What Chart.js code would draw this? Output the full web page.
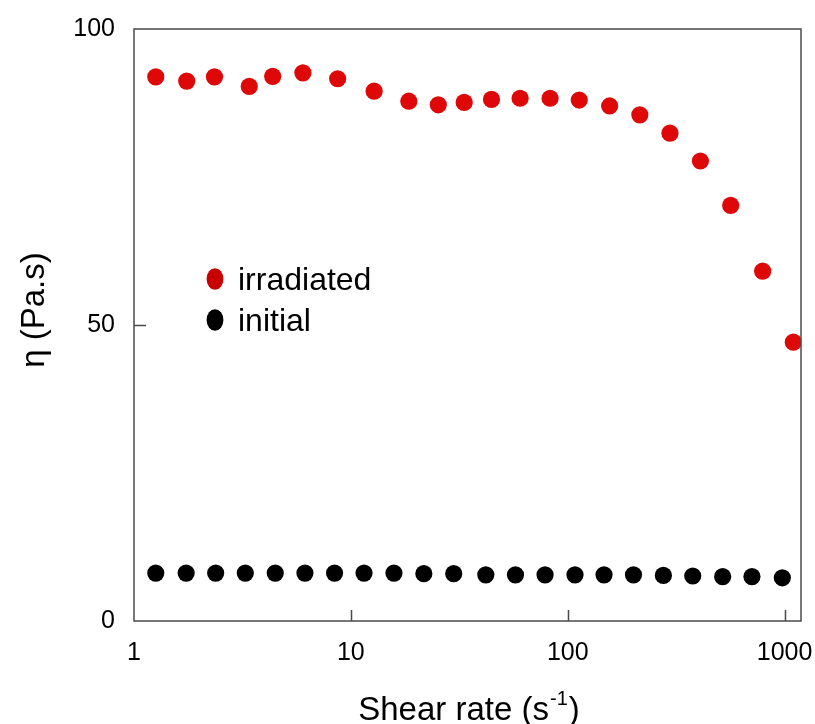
<!DOCTYPE html>
<html>
<head>
<meta charset="utf-8">
<script src="https://cdn.jsdelivr.net/npm/chart.js@4/dist/chart.umd.min.js"></script>
<style>
  html, body { margin: 0; padding: 0; background: #ffffff; }
  #wrap { width: 815px; height: 724px; }
</style>
</head>
<body>
<div id="wrap"><canvas id="c" width="815" height="724"></canvas></div>
<script>
// Shear rate (1/s) and viscosity (Pa.s) for the irradiated sample
const shearIrradiated = [1.26, 1.75, 2.35, 3.40, 4.36, 6.01, 8.69, 12.8, 18.5, 25.3, 33.3,
                         44.5, 60.3, 82.9, 113, 156, 215, 296, 409, 564, 792, 1097];
const etaIrradiated   = [91.9, 91.2, 91.9, 90.3, 92.0, 92.6, 91.6, 89.5, 87.8, 87.2, 87.6,
                         88.1, 88.3, 88.3, 88.0, 87.0, 85.5, 82.4, 77.7, 70.2, 59.1, 47.1];

// Shear rate (1/s) and viscosity (Pa.s) for the initial sample
const shearInitial = [1.26, 1.74, 2.38, 3.26, 4.48, 6.14, 8.41, 11.5, 15.8, 21.7, 29.8,
                      41.9, 57.4, 78.6, 108, 147, 201, 276, 377, 518, 707, 976];
const etaInitial   = [8.1, 8.1, 8.1, 8.1, 8.1, 8.1, 8.1, 8.1, 8.1, 8.0, 8.0,
                      7.8, 7.8, 7.8, 7.8, 7.8, 7.8, 7.7, 7.6, 7.5, 7.5, 7.3];

// Axis tick values
const xTickValues = [1, 10, 100, 1000];
const yTickValues = [0, 50, 100];

const seriesLabels = ['irradiated', 'initial'];
const FONT = '"Liberation Sans", Arial, Helvetica, sans-serif';

const toPoints = (xs, ys) => xs.map((x, i) => ({ x: x, y: ys[i] }));

// keep the plot area fixed regardless of how far tick labels overhang
const noOverhang = s => {
  s.paddingLeft = 0; s.paddingRight = 0; s.paddingTop = 0; s.paddingBottom = 0;
};

// Frame, inward tick marks, legend and axis titles
const decorations = {
  id: 'decorations',
  afterDraw(chart) {
    const ctx = chart.ctx;
    const area = chart.chartArea;
    const xs = chart.scales.x;
    const ys = chart.scales.y;
    ctx.save();

    // plot frame
    ctx.strokeStyle = '#4a4a4a';
    ctx.lineWidth = 1.5;
    ctx.strokeRect(area.left, area.top, area.right - area.left, area.bottom - area.top);

    // inward ticks
    ctx.beginPath();
    xTickValues.forEach(v => {
      const px = Math.round(xs.getPixelForValue(v)) + 0.5;
      if (px > area.left + 2 && px < area.right - 2) {
        ctx.moveTo(px, area.bottom);
        ctx.lineTo(px, area.bottom - 11);
      }
    });
    yTickValues.forEach(v => {
      const py = Math.round(ys.getPixelForValue(v)) + 0.5;
      if (py > area.top + 2 && py < area.bottom - 2) {
        ctx.moveTo(area.left, py);
        ctx.lineTo(area.left + 12, py);
      }
    });
    ctx.stroke();

    // legend
    const legendColors = ['#c80000', '#000000'];
    const legendY = [279, 320];
    ctx.font = '32px ' + FONT;
    ctx.textBaseline = 'middle';
    ctx.textAlign = 'left';
    seriesLabels.forEach((lab, i) => {
      ctx.fillStyle = legendColors[i];
      ctx.beginPath();
      ctx.ellipse(215, legendY[i], 8.4, 10.8, 0, 0, Math.PI * 2);
      ctx.fill();
      ctx.fillStyle = '#000000';
      ctx.fillText(lab, 238, legendY[i] + 2);
    });

    // x axis title with superscript
    const main = 'Shear rate (s';
    const sup = '-1';
    const close = ')';
    ctx.textBaseline = 'alphabetic';
    ctx.font = '33px ' + FONT;
    const wMain = ctx.measureText(main).width;
    const wClose = ctx.measureText(close).width;
    ctx.font = '20px ' + FONT;
    const wSup = ctx.measureText(sup).width;
    const total = wMain + wSup + wClose + 2;
    let tx = 469 - total / 2;
    const base = 720;
    ctx.font = '33px ' + FONT;
    ctx.fillText(main, tx, base);
    tx += wMain + 1;
    ctx.font = '20px ' + FONT;
    ctx.fillText(sup, tx, base - 15);
    tx += wSup + 1;
    ctx.font = '33px ' + FONT;
    ctx.fillText(close, tx, base);

    // y axis title
    ctx.translate(35, 310);
    ctx.rotate(-Math.PI / 2);
    ctx.textAlign = 'center';
    ctx.textBaseline = 'middle';
    ctx.font = '33px ' + FONT;
    ctx.fillText('\u03B7 (Pa.s)', 0, 0);

    ctx.restore();
  }
};

new Chart(document.getElementById('c'), {
  type: 'scatter',
  data: {
    datasets: [
      {
        label: seriesLabels[0],
        data: toPoints(shearIrradiated, etaIrradiated),
        backgroundColor: '#de0808',
        borderWidth: 0,
        pointRadius: 8.6,
        pointHoverRadius: 8.6
      },
      {
        label: seriesLabels[1],
        data: toPoints(shearInitial, etaInitial),
        backgroundColor: '#000000',
        borderWidth: 0,
        pointRadius: 8.6,
        pointHoverRadius: 8.6
      }
    ]
  },
  options: {
    responsive: false,
    devicePixelRatio: 1,
    animation: false,
    layout: { padding: { top: 29, right: 14, left: 0, bottom: 0 } },
    plugins: { legend: { display: false }, tooltip: { enabled: false } },
    scales: {
      x: {
        type: 'logarithmic',
        min: 1,
        max: 1190,
        grid: { display: false, drawTicks: false },
        border: { display: false },
        afterBuildTicks: s => { s.ticks = xTickValues.map(v => ({ value: v })); },
        afterFit: s => { s.height = 103; noOverhang(s); },
        ticks: {
          autoSkip: false,
          maxRotation: 0,
          padding: 17,
          color: '#000000',
          font: { family: FONT, size: 25 },
          callback: v => String(v)
        }
      },
      y: {
        type: 'linear',
        min: 0,
        max: 100,
        grid: { display: false, drawTicks: false },
        border: { display: false },
        afterBuildTicks: s => { s.ticks = yTickValues.map(v => ({ value: v })); },
        afterFit: s => { s.width = 134; noOverhang(s); },
        ticks: {
          padding: 19,
          color: '#000000',
          font: { family: FONT, size: 25 },
          callback: v => String(v)
        }
      }
    }
  },
  plugins: [decorations]
});
</script>
</body>
</html>
